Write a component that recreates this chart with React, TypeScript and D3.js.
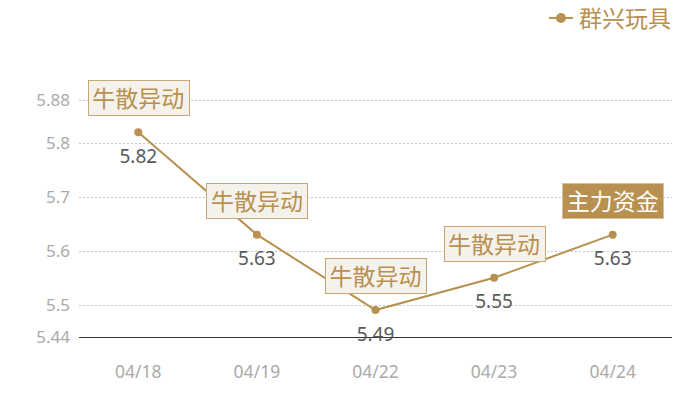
import React from "react";
import * as d3 from "d3";

const dates = ["04/18", "04/19", "04/22", "04/23", "04/24"];
const prices = [5.82, 5.63, 5.49, 5.55, 5.63];
const notes = ["牛散异动", "牛散异动", "牛散异动", "牛散异动", "主力资金"];
const yTicks = [5.44, 5.5, 5.6, 5.7, 5.8, 5.88];
const seriesName = "群兴玩具";

const W = 700;
const H = 400;
const left = 79;
const right = 672;
const top = 100;
const bottom = 337;
const gold = "#b8904f";
const font = "'Noto Sans CJK SC', 'Noto Sans', sans-serif";
const numFont = "'Noto Sans', sans-serif";

export default function App() {
  const x = d3.scaleBand().domain(dates).range([left, right]);
  const y = d3.scaleLinear().domain([5.44, 5.88]).range([bottom, top]);
  const cx = (d: string) => (x(d) as number) + x.bandwidth() / 2;

  const line = d3
    .line<number>()
    .x((_, i) => cx(dates[i]))
    .y((v) => y(v));

  const boxW = 101;
  const boxH = 35;

  return (
    <svg
      width={W}
      height={H}
      style={{ position: "absolute", left: 0, top: 0, fontFamily: font }}
    >
      {/* grid */}
      {yTicks.map((t) =>
        t === 5.44 ? null : (
          <line
            key={t}
            x1={left}
            x2={right}
            y1={Math.round(y(t)) + 0.5}
            y2={Math.round(y(t)) + 0.5}
            stroke="#c8c8c8"
            strokeDasharray="2,2"
          />
        )
      )}
      <line x1={left} x2={right} y1={bottom + 0.5} y2={bottom + 0.5} stroke="#333" strokeWidth={1.2} />
      {yTicks.map((t) => (
        <text
          key={"l" + t}
          x={70}
          y={y(t)}
          dy="0.35em"
          textAnchor="end"
          fontSize={17}
          fontFamily={numFont}
          fill="#aaaaaa"
        >
          {t}
        </text>
      ))}
      {dates.map((d) => (
        <text
          key={d}
          x={cx(d)}
          y={372}
          dy="0.35em"
          textAnchor="middle"
          fontSize={17.5}
          fontFamily={numFont}
          fill="#aaaaaa"
        >
          {d}
        </text>
      ))}

      <path d={line(prices) as string} fill="none" stroke={gold} strokeWidth={2} />
      {prices.map((v, i) => (
        <g key={i}>
          <circle cx={cx(dates[i])} cy={y(v)} r={4} fill={gold} />
          <text
            x={cx(dates[i])}
            y={y(v) + 24}
            dy="0.35em"
            textAnchor="middle"
            fontSize={19}
            fontFamily={numFont}
            fill="#5a5a5a"
          >
            {v.toFixed(2)}
          </text>
        </g>
      ))}

      {notes.map((n, i) => {
        const px = cx(dates[i]);
        const py = y(prices[i]);
        const main = n === "主力资金";
        const bx = Math.round(px - boxW / 2);
        const by = Math.round(py - 17 - boxH);
        return (
          <g key={"n" + i}>
            <rect
              x={bx + 0.5}
              y={by + 0.5}
              width={boxW}
              height={boxH}
              fill={main ? gold : "#f5f1eb"}
              stroke={main ? "#d6bf98" : "#c9a774"}
              strokeWidth={1}
            />
            <text
              x={px}
              y={by + boxH / 2 + 1}
              dy="0.35em"
              textAnchor="middle"
              fontSize={23}
              fill={main ? "#ffffff" : gold}
            >
              {n}
            </text>
          </g>
        );
      })}

      {/* legend */}
      <line x1={549} x2={573} y1={18} y2={18} stroke={gold} strokeWidth={2} />
      <circle cx={561} cy={18} r={5} fill={gold} />
      <text x={579} y={19} dy="0.35em" fontSize={23} fill={gold}>
        {seriesName}
      </text>
    </svg>
  );
}
